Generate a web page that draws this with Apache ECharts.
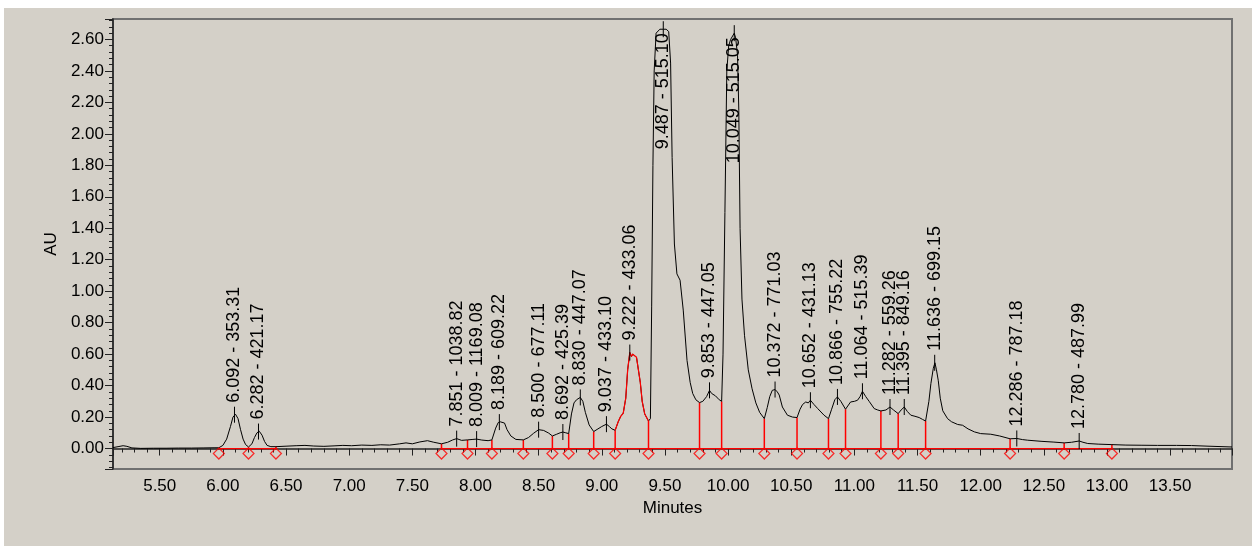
<!DOCTYPE html>
<html>
<head>
<meta charset="utf-8">
<title>Chromatogram</title>
<script src="https://cdn.jsdelivr.net/npm/echarts@6/dist/echarts.min.js"></script>
<style>
html, body { margin: 0; padding: 0; background: #fff; }
#chart { position: absolute; left: 4px; top: 8px; width: 1248px; height: 538px; background: #d4d0c8; }
</style>
</head>
<body>
<div id="chart"></div>
<script>
// trace: minutes / AU
const traceTime = [
  5.13, 5.17, 5.21, 5.24, 5.28, 5.35, 5.45, 5.55, 5.65, 5.75, 5.85, 5.93, 5.968,
  6.00, 6.03, 6.06, 6.08, 6.10, 6.12, 6.14, 6.16, 6.18, 6.203, 6.23, 6.25, 6.27, 6.288,
  6.31, 6.33, 6.35, 6.38, 6.42, 6.50, 6.58, 6.65, 6.72, 6.80, 6.88, 6.95, 7.02, 7.10,
  7.18, 7.25, 7.32, 7.40, 7.45, 7.50, 7.56, 7.62, 7.67, 7.731, 7.78, 7.82, 7.851, 7.89,
  7.937, 7.98, 8.009, 8.05, 8.10, 8.130, 8.16, 8.18, 8.196, 8.21, 8.23, 8.25, 8.28, 8.32,
  8.379, 8.42, 8.46, 8.50, 8.54, 8.58, 8.609, 8.64, 8.67, 8.692, 8.715, 8.738, 8.76, 8.78,
  8.80, 8.815, 8.83, 8.85, 8.87, 8.90, 8.936, 8.97, 9.00, 9.037, 9.06, 9.08, 9.106, 9.13,
  9.15, 9.17, 9.19, 9.205, 9.222, 9.235, 9.245, 9.26, 9.275, 9.29, 9.305, 9.32, 9.34, 9.37,
  9.385, 9.395, 9.405, 9.415, 9.43, 9.46, 9.487, 9.51, 9.53, 9.545, 9.557, 9.575, 9.595,
  9.62, 9.645, 9.675, 9.70, 9.72, 9.745, 9.774, 9.80, 9.83, 9.853, 9.87, 9.90, 9.93, 9.949,
  9.96, 9.975, 9.99, 10.005, 10.02, 10.035, 10.049, 10.06, 10.075, 10.085, 10.095, 10.11,
  10.13, 10.16, 10.19, 10.22, 10.25, 10.287, 10.31, 10.33, 10.35, 10.372, 10.39, 10.405,
  10.43, 10.47, 10.51, 10.546, 10.57, 10.59, 10.615, 10.635, 10.652, 10.68, 10.71, 10.76,
  10.795, 10.82, 10.845, 10.866, 10.893, 10.93, 10.97, 11.00, 11.025, 11.045, 11.064, 11.09,
  11.117, 11.157, 11.185, 11.21, 11.25, 11.282, 11.31, 11.347, 11.37, 11.395, 11.42, 11.447,
  11.48, 11.513, 11.54, 11.564, 11.59, 11.606, 11.625, 11.638, 11.65, 11.664, 11.68, 11.70,
  11.738, 11.77, 11.818, 11.857, 11.90, 11.95, 12.00, 12.08, 12.15, 12.233, 12.286, 12.33,
  12.373, 12.478, 12.58, 12.661, 12.72, 12.78, 12.81, 12.848, 12.93, 13.039, 13.15, 13.27,
  13.40, 13.55, 13.67, 13.80, 13.99
];
const traceAU = [
  0.006, 0.012, 0.018, 0.014, 0.004, 0.001, 0.002, 0.002, 0.003, 0.003, 0.004, 0.005, 0.005,
  0.02, 0.06, 0.14, 0.20, 0.218, 0.19, 0.12, 0.06, 0.025, 0.01, 0.03, 0.07, 0.10, 0.11,
  0.085, 0.045, 0.02, 0.012, 0.012, 0.015, 0.018, 0.02, 0.016, 0.014, 0.017, 0.02, 0.018, 0.022,
  0.02, 0.024, 0.022, 0.03, 0.036, 0.03, 0.042, 0.05, 0.04, 0.03, 0.04, 0.055, 0.063, 0.052,
  0.055, 0.058, 0.06, 0.054, 0.05, 0.055, 0.13, 0.165, 0.17, 0.158, 0.162, 0.12, 0.08, 0.058,
  0.055, 0.07, 0.097, 0.12, 0.115, 0.098, 0.08, 0.09, 0.10, 0.105, 0.10, 0.095, 0.22, 0.29,
  0.31, 0.305, 0.325, 0.30, 0.23, 0.15, 0.108, 0.125, 0.14, 0.155, 0.14, 0.125, 0.116, 0.17,
  0.205, 0.225, 0.32, 0.50, 0.61, 0.585, 0.60, 0.605, 0.58, 0.50, 0.42, 0.30, 0.22, 0.175,
  0.19, 0.90, 1.80, 2.40, 2.64, 2.665, 2.665, 2.665, 2.65, 2.45, 1.85, 1.30, 1.11,
  1.07, 0.88, 0.56, 0.42, 0.35, 0.31, 0.292, 0.30, 0.33, 0.37, 0.35, 0.335, 0.31, 0.30,
  0.60, 1.50, 2.40, 2.56, 2.60, 2.59, 2.64, 2.61, 2.50, 2.15, 1.40, 0.95,
  0.72, 0.50, 0.38, 0.29, 0.23, 0.19, 0.26, 0.33, 0.37, 0.375, 0.36, 0.34,
  0.264, 0.212, 0.20, 0.197, 0.25, 0.28, 0.296, 0.29, 0.307, 0.28, 0.254, 0.212,
  0.19, 0.25, 0.31, 0.328, 0.30, 0.25, 0.296, 0.30, 0.307, 0.33, 0.364, 0.33,
  0.30, 0.254, 0.245, 0.239, 0.245, 0.264, 0.245, 0.222, 0.245, 0.264, 0.235, 0.212,
  0.205, 0.197, 0.185, 0.175, 0.30, 0.413, 0.51, 0.545, 0.50, 0.434, 0.32, 0.24,
  0.19, 0.17, 0.153, 0.148, 0.125, 0.106, 0.095, 0.091, 0.08, 0.062, 0.064, 0.057,
  0.053, 0.046, 0.041, 0.036, 0.04, 0.048, 0.04, 0.032, 0.028, 0.025, 0.022, 0.021,
  0.02, 0.02, 0.019, 0.015, 0.01
];

// labelled peaks: retention time, apex height, m/z
const peakTime = [6.092, 6.282, 7.851, 8.009, 8.189, 8.500, 8.692, 8.830, 9.037, 9.222, 9.487,
  9.853, 10.049, 10.372, 10.652, 10.866, 11.064, 11.282, 11.395, 11.636, 12.286, 12.780];
const peakHeight = [0.215, 0.108, 0.063, 0.060, 0.168, 0.12, 0.105, 0.325, 0.155, 0.61, 2.665,
  0.37, 2.64, 0.375, 0.307, 0.328, 0.364, 0.264, 0.264, 0.545, 0.064, 0.048];
const peakMass = ['353.31', '421.17', '1038.82', '1169.08', '609.22', '677.11', '425.39', '447.07',
  '433.10', '433.06', '515.10', '447.05', '515.05', '771.03', '431.13', '755.22', '515.39',
  '559.26', '849.16', '699.15', '787.18', '487.99'];

// integration boundaries and trace height at each drop line
const boundTime = [5.968, 6.203, 6.420, 7.731, 7.937, 8.130, 8.379, 8.609, 8.738, 8.936, 9.106,
  9.370, 9.774, 9.949, 10.287, 10.546, 10.795, 10.930, 11.210, 11.347, 11.564, 12.233, 12.661, 13.039];
const boundHeight = [0.005, 0.01, 0.012, 0.03, 0.055, 0.055, 0.055, 0.08, 0.095, 0.108, 0.116,
  0.175, 0.292, 0.30, 0.19, 0.197, 0.19, 0.25, 0.239, 0.222, 0.175, 0.06, 0.036, 0.025];
const baselineRuns = [[5.968, 6.420], [7.731, 13.039]];

// the peak drawn in red
const redPeak = [9.106, 9.370];

const FONT = '"Liberation Sans", Arial, sans-serif';

const trace = traceTime.map((t, i) => [t, traceAU[i]]);
const redTrace = trace.filter(p => p[0] >= redPeak[0] && p[0] <= redPeak[1]);
const peakLabels = peakTime.map((t, i) => t.toFixed(3) + ' - ' + peakMass[i]);
const baseline = [];
baselineRuns.forEach((r, i) => {
  baseline.push([r[0], 0], [r[1], 0]);
  if (i < baselineRuns.length - 1) baseline.push([r[1], '-']);
});

const chart = echarts.init(document.getElementById('chart'));

const option = {
  animation: false,
  grid: {
    left: 109, top: 11, right: 20, bottom: 77,
    show: true, borderColor: '#707070', borderWidth: 2
  },
  xAxis: {
    type: 'value',
    min: 5.13,
    max: 13.99,
    splitNumber: 18,
    name: 'Minutes',
    nameLocation: 'middle',
    nameGap: 29,
    nameTextStyle: { fontFamily: FONT, fontSize: 17, color: '#000' },
    axisLine: { lineStyle: { color: '#222', width: 1.5 } },
    axisTick: { length: 7, lineStyle: { color: '#222' } },
    minorTick: { show: true, splitNumber: 5, length: 4, lineStyle: { color: '#222' } },
    axisLabel: {
      fontFamily: FONT, fontSize: 17, color: '#000', margin: 9,
      showMinLabel: false, showMaxLabel: false,
      formatter: v => v.toFixed(2)
    },
    splitLine: { show: false }
  },
  yAxis: {
    type: 'value',
    min: -0.13,
    max: 2.73,
    splitNumber: 14,
    name: 'AU',
    nameLocation: 'middle',
    nameGap: 50,
    nameTextStyle: { fontFamily: FONT, fontSize: 17, color: '#000' },
    axisLine: { show: true, lineStyle: { color: '#222', width: 1.5 } },
    axisTick: { show: true, length: 8, lineStyle: { color: '#222' } },
    minorTick: { show: true, splitNumber: 5, length: 4, lineStyle: { color: '#222' } },
    axisLabel: {
      fontFamily: FONT, fontSize: 17, color: '#000', margin: 9,
      showMinLabel: false, showMaxLabel: false,
      formatter: v => v.toFixed(2)
    },
    splitLine: { show: false }
  },
  series: [
    {
      // baseline
      type: 'line',
      data: baseline,
      showSymbol: false,
      lineStyle: { color: '#ff0000', width: 1.2 },
      z: 2
    },
    {
      // drop lines
      type: 'custom',
      data: boundTime.map((t, i) => [t, boundHeight[i]]),
      renderItem: (params, api) => {
        const top = api.coord([api.value(0), api.value(1)]);
        const base = api.coord([api.value(0), 0]);
        return {
          type: 'line',
          shape: { x1: top[0], y1: top[1], x2: base[0], y2: base[1] },
          style: { stroke: '#ff0000', lineWidth: 1.5 }
        };
      },
      z: 2
    },
    {
      // boundary markers
      type: 'scatter',
      data: boundTime.map(t => [t, 0]),
      symbol: 'diamond',
      symbolSize: [11, 11],
      symbolOffset: [0, 5],
      itemStyle: { color: 'rgba(0,0,0,0)', borderColor: '#ff0000', borderWidth: 1.2 },
      z: 4
    },
    {
      type: 'line',
      data: trace,
      showSymbol: false,
      lineStyle: { color: '#000', width: 1 },
      z: 3
    },
    {
      type: 'line',
      data: redTrace,
      showSymbol: false,
      lineStyle: { color: '#ff0000', width: 1.2 },
      z: 4
    },
    {
      // apex ticks and labels
      type: 'custom',
      data: peakTime.map((t, i) => [t, peakHeight[i]]),
      renderItem: (params, api) => {
        const i = params.dataIndex;
        const p = api.coord([api.value(0), api.value(1)]);
        const clipped = p[1] < 150;
        return {
          type: 'group',
          children: [
            {
              type: 'line',
              shape: { x1: p[0], y1: p[1] - 8, x2: p[0], y2: p[1] + 8 },
              style: { stroke: '#000', lineWidth: 1 }
            },
            {
              type: 'text',
              x: p[0],
              y: clipped ? p[1] + 4 : p[1] - 12,
              rotation: Math.PI / 2,
              style: {
                text: peakLabels[i],
                font: '18px ' + FONT,
                fill: '#000',
                align: clipped ? 'right' : 'left',
                verticalAlign: 'middle'
              }
            }
          ]
        };
      },
      z: 5
    }
  ]
};

chart.setOption(option);
</script>
</body>
</html>
